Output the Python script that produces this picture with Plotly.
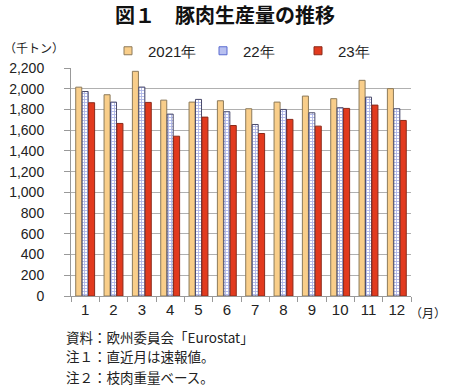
import plotly.graph_objects as go

months = ["1", "2", "3", "4", "5", "6", "7", "8", "9", "10", "11", "12"]
y2021 = [2015, 1942, 2168, 1890, 1871, 1884, 1807, 1871, 1929, 1904, 2081, 2001]
y2022 = [1973, 1871, 2016, 1755, 1897, 1778, 1655, 1800, 1768, 1817, 1919, 1807]
y2023 = [1865, 1665, 1868, 1542, 1726, 1645, 1568, 1704, 1639, 1810, 1842, 1694]
series_names = ["2021年", "22年", "23年"]
yticks = list(range(0, 2201, 200))

font_jp = "Noto Sans CJK JP, sans-serif"
font_num = "Liberation Sans, Arial, sans-serif"

c21, l21 = "#F9CE8A", "#8C7A5A"
c23, l23 = "#E23A1E", "#8A2A1A"
c22fg, l22 = "#5A6BD0", "#4A4A6A"

fig = go.Figure()
fig.add_trace(go.Bar(
    x=months, y=y2021, name=series_names[0], showlegend=False,
    marker=dict(color=c21, line=dict(color=l21, width=1)),
))
fig.add_trace(go.Bar(
    x=months, y=y2022, name=series_names[1], showlegend=False,
    marker=dict(color="#FFFFFF", line=dict(color=l22, width=1),
                pattern=dict(shape="+", fgcolor=c22fg, bgcolor="#FFFFFF",
                             size=3, solidity=0.5)),
))
fig.add_trace(go.Bar(
    x=months, y=y2023, name=series_names[2], showlegend=False,
    marker=dict(color=c23, line=dict(color=l23, width=1)),
))
# legend keys (small squares like the reference)
for nm, fc, lc in [(series_names[0], c21, l21), (series_names[1], "#B8C0F0", c22fg),
                   (series_names[2], c23, l23)]:
    fig.add_trace(go.Scatter(
        x=[None], y=[None], mode="markers", name=nm, showlegend=True,
        marker=dict(symbol="square", size=8, color=fc, line=dict(color=lc, width=1)),
    ))

fig.update_layout(
    width=450, height=391,
    margin=dict(l=71, r=39, t=68, b=95, autoexpand=False),
    paper_bgcolor="white", plot_bgcolor="white",
    barmode="group", bargap=0.32, bargroupgap=0.06,
    showlegend=True,
    legend=dict(orientation="h", x=(108 - 71) / 340, xanchor="left",
                y=1 + (68 - 51) / 228, yanchor="middle",
                font=dict(family=font_num, size=15, color="#222"),
                itemwidth=30, entrywidth=50, entrywidthmode="pixels",
                bgcolor="rgba(0,0,0,0)"),
    title=dict(text="<b>図１　豚肉生産量の推移</b>", x=0.5, xanchor="center",
               y=1 - 16 / 391, yanchor="middle",
               font=dict(family=font_jp, size=20, color="#111")),
    font=dict(family=font_num, size=15, color="#222"),
)
fig.update_xaxes(
    type="category", showline=True, linecolor="#999", linewidth=1,
    ticks="outside", ticklen=5, tickcolor="#999", tickson="boundaries",
    tickfont=dict(family=font_num, size=15, color="#222"),
    showgrid=False,
)
fig.update_yaxes(
    range=[0, 2200], tickvals=yticks, tickformat=",d",
    showline=True, linecolor="#999", linewidth=1,
    ticks="outside", ticklen=6, tickcolor="#999", ticklabelstandoff=17,
    showgrid=True, gridcolor="#B0B0B0", gridwidth=1,
    tickfont=dict(family=font_num, size=14, color="#222"),
    zeroline=False,
)

ann = [
    dict(text="（千トン）", x=2, y=47, font=dict(family=font_jp, size=12)),
    dict(text="（月）", x=408, y=312, font=dict(family=font_jp, size=12)),
    dict(text="資料：欧州委員会「Eurostat」", x=64, y=337, font=dict(family=font_jp, size=13.5)),
    dict(text="注１：直近月は速報値。", x=64, y=356, font=dict(family=font_jp, size=13.5)),
    dict(text="注２：枝肉重量ベース。", x=64, y=377, font=dict(family=font_jp, size=13.5)),
]
for a in ann:
    fig.add_annotation(text=a["text"], xref="paper", yref="paper",
                       x=(a["x"] - 71) / 340, y=1 - (a["y"] - 68) / 228,
                       xanchor="left", yanchor="middle", showarrow=False,
                       font=dict(color="#222", **a["font"]))

fig.write_html("out.html", config={"displayModeBar": False},
               post_script="document.body.style.margin='0px';document.body.style.padding='0px';")
